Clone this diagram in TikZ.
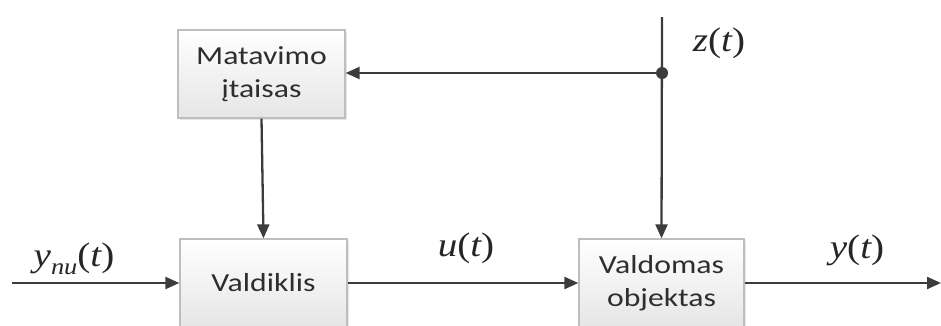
\documentclass[tikz,border=0pt]{standalone}
\usepackage{fontspec}
\setmainfont{Carlito}
\newfontfamily\tms{Liberation Serif}
\newfontfamily\tmsit{Liberation Serif Italic}
\usetikzlibrary{arrows.meta,shadows}
\newcommand{\wide}[1]{\scalebox{1.22}[1]{#1}}
\newcommand{\sig}[1]{\scalebox{1.15}[1]{\tms\fontsize{34}{38}\selectfont #1}}
\newcommand{\iv}[1]{{\tmsit #1}}
\definecolor{wire}{HTML}{3C3C3C}
\definecolor{edge}{HTML}{BEBEBE}
\tikzset{
  block/.style={draw=edge, line width=1.3pt, top color=white, bottom color=black!10,
    drop shadow={shadow xshift=1.5pt, shadow yshift=-1.5pt, opacity=0.2},
    align=center, inner sep=0pt, font=\fontsize{26}{33}\selectfont, text=black!82},
  wireline/.style={draw=wire, line width=2.3pt},
  arrowed/.style={wireline, -{Triangle[length=14pt,width=12pt]}},
  siglabel/.style={inner sep=0pt, text=black!85}
}
\begin{document}
\begin{tikzpicture}[x=1pt, y=-1pt]
  \useasboundingbox (0,0) rectangle (941,325);
  % blocks
  \node[block, minimum width=167pt, minimum height=88pt] (meas) at (261.5,74) {\wide{Matavimo}\\\wide{įtaisas}};
  \node[block, minimum width=167pt, minimum height=88pt] (ctrl) at (263.5,283) {\wide{Valdiklis}};
  \node[block, minimum width=165pt, minimum height=88pt] (plant) at (661.5,283) {\wide{Valdomas}\\\wide{objektas}};
  % signal points
  \coordinate (in) at (12,283);
  \coordinate (out) at (941,283);
  \coordinate (ztop) at (662,17);
  \coordinate (tap) at (662,73);
  % connectors
  \draw[arrowed] (in) -- (ctrl.west);
  \draw[arrowed] (ctrl.east) -- (plant.west);
  \draw[arrowed] (plant.east) -- (out);
  \draw[arrowed] (meas.south) -- (ctrl.north);
  \draw[arrowed] (ztop) -- (plant.north);
  \draw[arrowed] (tap) -- (meas.east |- tap);
  \fill[wire] (tap) circle (6pt);
  % signal labels
  \node[siglabel] (ynu) at (74,259) {\sig{\iv{y}\raisebox{-0.25em}{\fontsize{23}{23}\selectfont\iv{nu}}(\iv{t})}};
  \node[siglabel] (ut) at (466,248) {\sig{\iv{u}(\iv{t})}};
  \node[siglabel] (yt) at (857,250) {\sig{\iv{y}(\iv{t})}};
  \node[siglabel] (zt) at (719,43) {\sig{\iv{z}(\iv{t})}};
\end{tikzpicture}
\end{document}
